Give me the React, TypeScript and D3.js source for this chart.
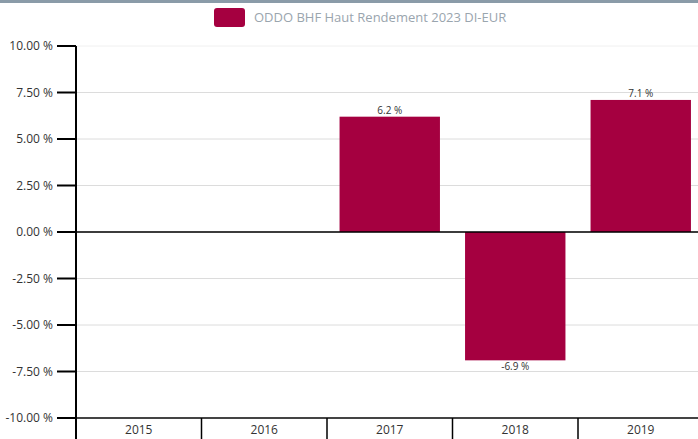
import React from "react";
import * as d3 from "d3";

const categories = ["2015", "2016", "2017", "2018", "2019"];
const values: (number | null)[] = [null, null, 6.2, -6.9, 7.1];
const yTicks = [-10, -7.5, -5, -2.5, 0, 2.5, 5, 7.5, 10];
const seriesName = "ODDO BHF Haut Rendement 2023 DI-EUR";

const W = 698;
const H = 439;
const BAR = "#a50040";
const FONT = "'Open Sans', 'Noto Sans', sans-serif";

export default function App() {
  const y = d3.scaleLinear().domain([-10, 10]).range([418, 46]);
  const x = d3.scaleBand().domain(categories).range([76, 703.5]).paddingInner(0.2).paddingOuter(0.1);
  const xb = d3.scaleBand().domain(categories).range([76, 703.5]);
  const fmt = (v: number) => `${v.toFixed(2)} %`;
  return (
    <svg width={W} height={H} style={{ position: "absolute", left: 0, top: 0, fontFamily: FONT }}>
      <rect x={0} y={0} width={W} height={3} fill="#8a9ba8" />
      <rect x={214} y={8} width={31} height={19} rx={3} fill={BAR} />
      <text x={254} y={22} fontSize={13} fill="#9aa5ae">{seriesName}</text>
      {yTicks.map((t) => (
        <g key={t}>
          <line x1={76} x2={698} y1={y(t)} y2={y(t)} stroke={t === 10 ? "#f0f0f0" : "#dcdcdc"} strokeWidth={1} />
          <line x1={57} x2={76} y1={y(t)} y2={y(t)} stroke="#000" strokeWidth={2} />
          <text x={53} y={y(t)} dy="0.35em" textAnchor="end" fontSize={12} fill="#333">{fmt(t)}</text>
        </g>
      ))}
      {categories.map((c, i) => {
        const v = values[i];
        if (v == null) return null;
        const x0 = x(c)!;
        const top = y(Math.max(0, v));
        const h = Math.abs(y(v) - y(0));
        return (
          <g key={c}>
            <rect x={x0} y={top} width={x.bandwidth()} height={h} fill={BAR} />
            <text
              x={x0 + x.bandwidth() / 2}
              y={v >= 0 ? y(v) - 3 : y(v) + 10}
              textAnchor="middle"
              fontSize={10}
              fill="#333"
            >{`${v.toFixed(1)} %`}</text>
          </g>
        );
      })}
      <line x1={76} x2={698} y1={y(0)} y2={y(0)} stroke="#000" strokeWidth={1.5} />
      <line x1={76} x2={698} y1={y(-10)} y2={y(-10)} stroke="#444" strokeWidth={2} />
      <line x1={76} x2={76} y1={y(10)} y2={H} stroke="#000" strokeWidth={2} />
      {categories.map((c, i) => (
        <g key={c}>
          {i > 0 && <line x1={xb(c)!} x2={xb(c)!} y1={418} y2={H} stroke="#000" strokeWidth={1.5} />}
          <text x={xb(c)! + xb.bandwidth() / 2} y={434} textAnchor="middle" fontSize={12} fill="#333">{c}</text>
        </g>
      ))}
    </svg>
  );
}
